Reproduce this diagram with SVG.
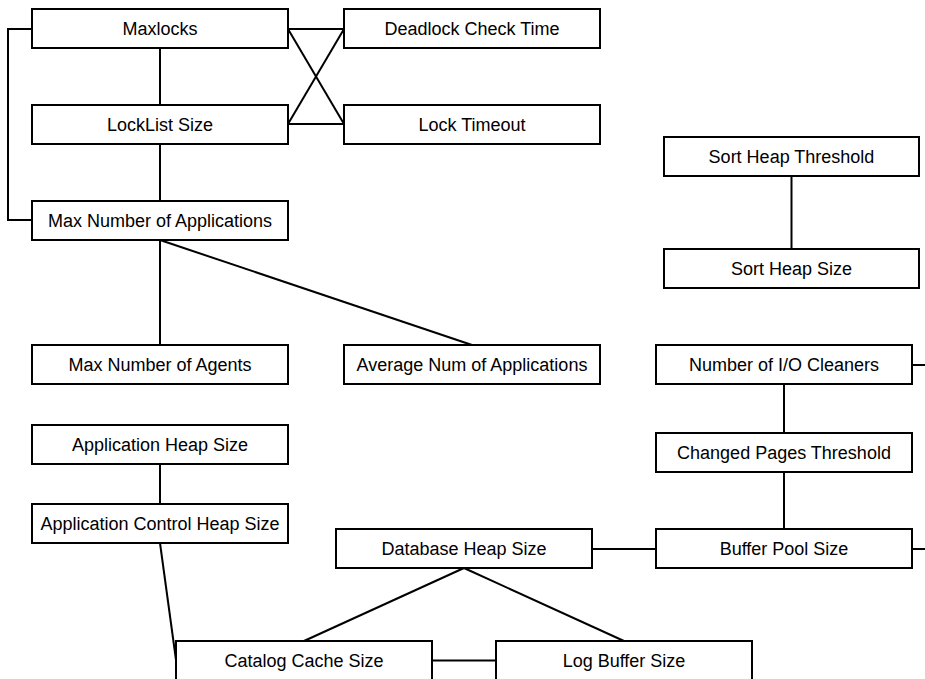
<svg xmlns="http://www.w3.org/2000/svg" width="925" height="679" viewBox="0 0 925 679">
<style>
.box{fill:#fff;stroke:#000;stroke-width:2}
.lbl{font-family:"Liberation Sans",Arial,sans-serif;font-size:18px;fill:#000;text-anchor:middle}
.con{fill:none;stroke:#000;stroke-width:2}
</style>
<rect width="925" height="679" fill="#fff"/>
<g id="connectors" class="con">
<path d="M32,29 H8 V220 H32"/>
<path d="M160,48 V105"/>
<path d="M160,144 V201"/>
<path d="M288,29 H344"/>
<path d="M288,29 L344,124"/>
<path d="M288,124 L344,29"/>
<path d="M288,124 H344"/>
<path d="M791.5,176 V249"/>
<path d="M160,240 V345"/>
<path d="M160,240 L472,345"/>
<path d="M160,464 V504"/>
<path d="M160,543 L176,660"/>
<path d="M784,384 V433"/>
<path d="M784,472 V529"/>
<path d="M912,365 H925"/>
<path d="M912,549 H925"/>
<path d="M592,549 H656"/>
<path d="M464,568 L304,641"/>
<path d="M464,568 L624,641"/>
<path d="M432,660.5 H496"/>
</g>
<g id="maxlocks"><rect class="box" x="32" y="9" width="256" height="39"/><text class="lbl" x="160" y="35">Maxlocks</text></g>
<g id="deadlock"><rect class="box" x="344" y="9" width="256" height="39"/><text class="lbl" x="472" y="35">Deadlock Check Time</text></g>
<g id="locklist"><rect class="box" x="32" y="105" width="256" height="39"/><text class="lbl" x="160" y="131">LockList Size</text></g>
<g id="locktimeout"><rect class="box" x="344" y="105" width="256" height="39"/><text class="lbl" x="472" y="131">Lock Timeout</text></g>
<g id="maxapps"><rect class="box" x="32" y="201" width="256" height="39"/><text class="lbl" x="160" y="227">Max Number of Applications</text></g>
<g id="sortheapthresh"><rect class="box" x="664" y="137" width="255" height="39"/><text class="lbl" x="791.5" y="163">Sort Heap Threshold</text></g>
<g id="sortheap"><rect class="box" x="664" y="249" width="255" height="39"/><text class="lbl" x="791.5" y="275">Sort Heap Size</text></g>
<g id="maxagents"><rect class="box" x="32" y="345" width="256" height="39"/><text class="lbl" x="160" y="371">Max Number of Agents</text></g>
<g id="avgapps"><rect class="box" x="344" y="345" width="256" height="39"/><text class="lbl" x="472" y="371">Average Num of Applications</text></g>
<g id="iocleaners"><rect class="box" x="656" y="345" width="256" height="39"/><text class="lbl" x="784" y="371">Number of I/O Cleaners</text></g>
<g id="appheap"><rect class="box" x="32" y="425" width="256" height="39"/><text class="lbl" x="160" y="451">Application Heap Size</text></g>
<g id="changedpages"><rect class="box" x="656" y="433" width="256" height="39"/><text class="lbl" x="784" y="459">Changed Pages Threshold</text></g>
<g id="appctlheap"><rect class="box" x="32" y="504" width="256" height="39"/><text class="lbl" x="160" y="530">Application Control Heap Size</text></g>
<g id="dbheap"><rect class="box" x="336" y="529" width="256" height="39"/><text class="lbl" x="464" y="555">Database Heap Size</text></g>
<g id="bufferpool"><rect class="box" x="656" y="529" width="256" height="39"/><text class="lbl" x="784" y="555">Buffer Pool Size</text></g>
<g id="catalogcache"><rect class="box" x="176" y="641" width="256" height="39"/><text class="lbl" x="304" y="667">Catalog Cache Size</text></g>
<g id="logbuffer"><rect class="box" x="496" y="641" width="256" height="39"/><text class="lbl" x="624" y="667">Log Buffer Size</text></g>
</svg>
